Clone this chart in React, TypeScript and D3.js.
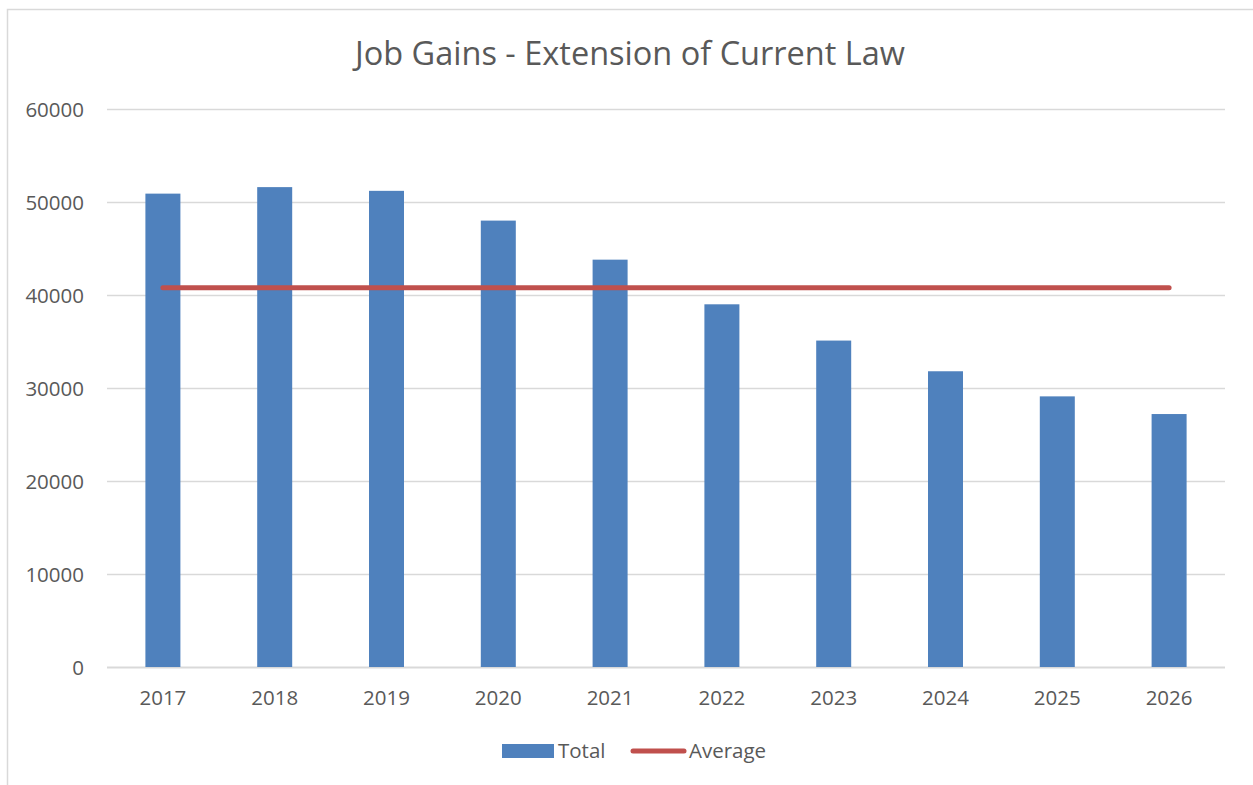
import React, { useEffect, useRef } from "react";
import * as d3 from "d3";

// values
const years = ["2017", "2018", "2019", "2020", "2021", "2022", "2023", "2024", "2025", "2026"];
const totals = [50900, 51600, 51200, 48000, 43800, 39000, 35100, 31800, 29100, 27200];
const yTicks = [0, 10000, 20000, 30000, 40000, 50000, 60000];
const chartTitle = "Job Gains - Extension of Current Law";
const seriesNames = ["Total", "Average"];

const W = 1253;
const H = 785;
const FONT = "'Open Sans', sans-serif";
const TEXT = "#595959";
const GRID = "#d9d9d9";
const BLUE = "#4f81bd";
const RED = "#c0504d";

export default function App() {
  const ref = useRef<SVGSVGElement>(null);

  useEffect(() => {
    const svg = d3.select(ref.current);
    svg.selectAll("*").remove();

    const margin = { top: 109, right: 28, bottom: 118, left: 107 };
    const width = W - margin.left - margin.right;
    const height = H - margin.top - margin.bottom;

    // chart border
    svg
      .append("rect")
      .attr("x", 7.5)
      .attr("y", 9.5)
      .attr("width", W + 10)
      .attr("height", H + 10)
      .attr("fill", "white")
      .attr("stroke", GRID)
      .attr("stroke-width", 1.5);

    // title
    svg
      .append("text")
      .attr("x", 630)
      .attr("y", 65)
      .attr("text-anchor", "middle")
      .style("font-family", FONT)
      .style("font-size", "32.5px")
      .style("fill", TEXT)
      .text(chartTitle);

    const g = svg.append("g").attr("transform", `translate(${margin.left},${margin.top})`);

    const x = d3.scaleBand().domain(years).range([0, width]).paddingInner(0).paddingOuter(0);
    const y = d3.scaleLinear().domain([0, 60000]).range([height, 0]);
    const barW = 35;

    // gridlines
    g.append("g")
      .selectAll("line")
      .data(yTicks)
      .enter()
      .append("line")
      .attr("x1", 0)
      .attr("x2", width)
      .attr("y1", (d) => Math.round(y(d)) + 0.5)
      .attr("y2", (d) => Math.round(y(d)) + 0.5)
      .attr("stroke", GRID)
      .attr("stroke-width", (d) => (d === 0 ? 2 : 1.5));

    // y labels
    g.append("g")
      .selectAll("text")
      .data(yTicks)
      .enter()
      .append("text")
      .attr("x", -23)
      .attr("y", (d) => y(d) + 7.5)
      .attr("text-anchor", "end")
      .style("font-family", FONT)
      .style("font-size", "20.5px")
      .style("fill", TEXT)
      .text((d) => String(d));

    // bars
    g.append("g")
      .selectAll("rect")
      .data(totals)
      .enter()
      .append("rect")
      .attr("x", (d, i) => x(years[i])! + x.bandwidth() / 2 - barW / 2)
      .attr("y", (d) => y(d))
      .attr("width", barW)
      .attr("height", (d) => height - y(d))
      .attr("fill", BLUE);

    // x labels
    g.append("g")
      .selectAll("text")
      .data(years)
      .enter()
      .append("text")
      .attr("x", (d) => x(d)! + x.bandwidth() / 2)
      .attr("y", height + 38)
      .attr("text-anchor", "middle")
      .style("font-family", FONT)
      .style("font-size", "20.5px")
      .style("fill", TEXT)
      .text((d) => d);

    // average line
    const avg = d3.mean(totals)!;
    const line = d3
      .line<string>()
      .x((d) => x(d)! + x.bandwidth() / 2)
      .y(() => y(avg));
    g.append("path")
      .attr("d", line(years))
      .attr("fill", "none")
      .attr("stroke", RED)
      .attr("stroke-width", 5)
      .attr("stroke-linecap", "round");

    // legend
    const leg = svg.append("g");
    leg.append("rect").attr("x", 502).attr("y", 744).attr("width", 52).attr("height", 14).attr("fill", BLUE);
    leg
      .append("text")
      .attr("x", 558)
      .attr("y", 758)
      .style("font-family", FONT)
      .style("font-size", "20.5px")
      .style("fill", TEXT)
      .text(seriesNames[0]);
    leg
      .append("line")
      .attr("x1", 633)
      .attr("x2", 684)
      .attr("y1", 751)
      .attr("y2", 751)
      .attr("stroke", RED)
      .attr("stroke-width", 5)
      .attr("stroke-linecap", "round");
    leg
      .append("text")
      .attr("x", 689)
      .attr("y", 758)
      .style("font-family", FONT)
      .style("font-size", "20.5px")
      .style("fill", TEXT)
      .text(seriesNames[1]);
  }, []);

  return (
    <svg
      ref={ref}
      width={W}
      height={H}
      style={{ position: "absolute", left: 0, top: 0, display: "block" }}
    />
  );
}
